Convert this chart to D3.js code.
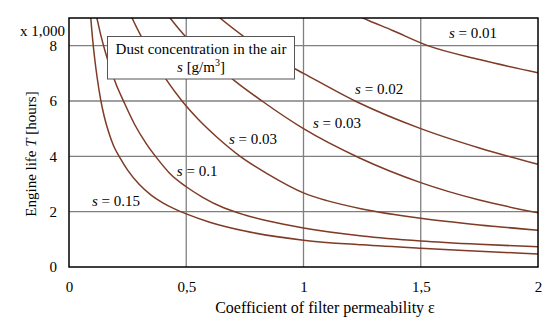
<!DOCTYPE html>
<html><head><meta charset="utf-8">
<script src="https://cdn.jsdelivr.net/npm/d3@7"></script>
<style>
html,body{margin:0;padding:0;background:#fff;}
svg{display:block;font-family:"Liberation Serif","Times New Roman",serif;}
</style>
</head><body>
<svg id="chart" width="550" height="324"></svg>
<script>
// ---------------- data ----------------
const epsTicks = [0, 0.5, 1, 1.5, 2];
const lifeTicks = [0, 2, 4, 6, 8];
const seriesLabels = ["0.01", "0.02", "0.03", "0.03", "0.1", "0.15"];

const eps_s001  = [1.2, 1.254, 1.38, 1.53, 1.75, 2.0];
const life_s001 = [9.22, 9.0, 8.55, 8.0, 7.5, 7.02];

const eps_s002  = [0.63, 0.644, 0.75, 0.87, 1.0, 1.22, 1.5, 1.75, 2.0];
const life_s002 = [9.1, 9.0, 8.3, 7.6, 7.0, 6.0, 5.0, 4.3, 3.71];

const eps_s003a  = [0.42, 0.431, 0.5, 0.6, 0.708, 0.823, 1.0, 1.237, 1.5, 1.75, 2.0];
const life_s003a = [9.12, 9.0, 8.3, 7.5, 6.72, 6.0, 5.0, 3.95, 3.05, 2.42, 1.96];

const eps_s003b  = [0.26, 0.269, 0.316, 0.36, 0.414, 0.482, 0.55, 0.63, 0.73, 0.85, 1.0, 1.1, 1.25, 1.5, 1.75, 2.0];
const life_s003b = [9.17, 9.0, 8.2, 7.5, 6.78, 6.0, 5.35, 4.7, 4.0, 3.35, 2.68, 2.4, 2.1, 1.76, 1.52, 1.33];

const eps_s01  = [0.11, 0.119, 0.135, 0.154, 0.18, 0.2, 0.235, 0.28, 0.33, 0.38, 0.43, 0.5, 0.57, 0.657, 0.75, 0.85, 1.0, 1.25, 1.5, 1.75, 2.0];
const life_s01 = [9.35, 9.0, 8.4, 7.8, 7.1, 6.62, 5.95, 5.15, 4.45, 3.88, 3.38, 2.9, 2.52, 2.15, 1.88, 1.66, 1.41, 1.12, 0.94, 0.82, 0.73];

const eps_s015  = [0.088, 0.093, 0.1, 0.11, 0.12, 0.135, 0.15, 0.17, 0.19, 0.217, 0.25, 0.3, 0.35, 0.4, 0.45, 0.5, 0.6, 0.75, 1.0, 1.25, 1.5, 1.75, 2.0];
const life_s015 = [9.6, 9.0, 8.3, 7.5, 6.85, 6.05, 5.45, 4.85, 4.38, 3.95, 3.5, 2.98, 2.6, 2.32, 2.1, 1.92, 1.62, 1.3, 0.97, 0.8, 0.675, 0.57, 0.47];

// label anchor points (data units: epsilon, life)
const labelEps  = [1.62, 1.22, 1.04, 0.682, 0.46, 0.098];
const labelLife = [8.27, 6.25, 5.03, 4.45, 3.29, 2.2];

const seriesEps  = [eps_s001, eps_s002, eps_s003a, eps_s003b, eps_s01, eps_s015];
const seriesLife = [life_s001, life_s002, life_s003a, life_s003b, life_s01, life_s015];

// ---------------- chart ----------------
const svg = d3.select("#chart");
const L = 69, R = 538, T = 18, B = 267;
const x = d3.scaleLinear().domain([0, 2]).range([L, R]);
const y = d3.scaleLinear().domain([0, 9]).range([B, T]);

const curveColor = "#7e3b26";
const gridColor = "#808080";
const FS = 15;

svg.append("rect").attr("width", 550).attr("height", 324).attr("fill", "#fff");

// grid
const grid = svg.append("g");
grid.selectAll("line.vx").data(epsTicks.filter(d => d > 0 && d < 2)).enter().append("line")
  .attr("x1", d => x(d)).attr("x2", d => x(d)).attr("y1", T).attr("y2", B)
  .attr("stroke", gridColor).attr("stroke-width", 1.3);
grid.selectAll("line.hy").data(lifeTicks.filter(d => d > 0)).enter().append("line")
  .attr("y1", d => y(d)).attr("y2", d => y(d)).attr("x1", L).attr("x2", R)
  .attr("stroke", gridColor).attr("stroke-width", 1.3);

// clip
svg.append("clipPath").attr("id", "plotclip").append("rect")
  .attr("x", L).attr("y", T).attr("width", R - L).attr("height", B - T);

const line = d3.line().x(d => x(d[0])).y(d => y(d[1])).curve(d3.curveMonotoneX);
const curves = svg.append("g").attr("clip-path", "url(#plotclip)");
seriesEps.forEach((ex, i) => {
  const pts = ex.map((e, j) => [e, seriesLife[i][j]]);
  curves.append("path").attr("d", line(pts)).attr("fill", "none")
    .attr("stroke", curveColor).attr("stroke-width", 1.5);
});

// frame
svg.append("rect").attr("x", L).attr("y", T).attr("width", R - L).attr("height", B - T)
  .attr("fill", "none").attr("stroke", "#000").attr("stroke-width", 1.5);

// axes
const xAxis = svg.append("g").attr("transform", `translate(0,${B})`)
  .call(d3.axisBottom(x).tickValues(epsTicks).tickSize(0).tickPadding(14)
    .tickFormat(d => String(d).replace(".", ",")));
const yAxis = svg.append("g").attr("transform", `translate(${L},0)`)
  .call(d3.axisLeft(y).tickValues(lifeTicks).tickSize(0).tickPadding(12));
[xAxis, yAxis].forEach(a => {
  a.select(".domain").remove();
  a.attr("font-family", null).attr("font-size", null);
  a.selectAll("text").attr("font-size", FS).attr("fill", "#000");
});

svg.append("text").attr("x", 65).attr("y", 36).attr("text-anchor", "end")
  .attr("font-size", FS).text("x 1,000");

// axis titles
svg.append("text").attr("x", 325).attr("y", 313).attr("text-anchor", "middle")
  .attr("font-size", 16).text("Coefficient of filter permeability ε");

const yt = svg.append("text").attr("transform", "translate(36,154) rotate(-90)")
  .attr("text-anchor", "middle").attr("font-size", FS);
yt.append("tspan").text("Engine life ");
yt.append("tspan").attr("font-style", "italic").text("T");
yt.append("tspan").text(" [hours]");

// series labels
seriesLabels.forEach((lab, i) => {
  const t = svg.append("text").attr("x", x(labelEps[i])).attr("y", y(labelLife[i]))
    .attr("font-size", FS);
  t.append("tspan").attr("font-style", "italic").text("s");
  t.append("tspan").text(" = " + lab);
});

// legend box
const bx = 107.5, by = 36.5, bw = 187, bh = 42.5;
svg.append("rect").attr("x", bx).attr("y", by).attr("width", bw).attr("height", bh)
  .attr("fill", "#fff").attr("stroke", "#555").attr("stroke-width", 1);
svg.append("text").attr("x", bx + bw / 2).attr("y", 54).attr("text-anchor", "middle")
  .attr("font-size", FS).text("Dust concentration in the air");
const l2 = svg.append("text").attr("x", bx + bw / 2).attr("y", 72).attr("text-anchor", "middle")
  .attr("font-size", FS);
l2.append("tspan").attr("font-style", "italic").text("s");
l2.append("tspan").text(" [g/m");
l2.append("tspan").attr("font-size", 10).attr("dy", -6).text("3");
l2.append("tspan").attr("dy", 6).text("]");
</script>
</body></html>
